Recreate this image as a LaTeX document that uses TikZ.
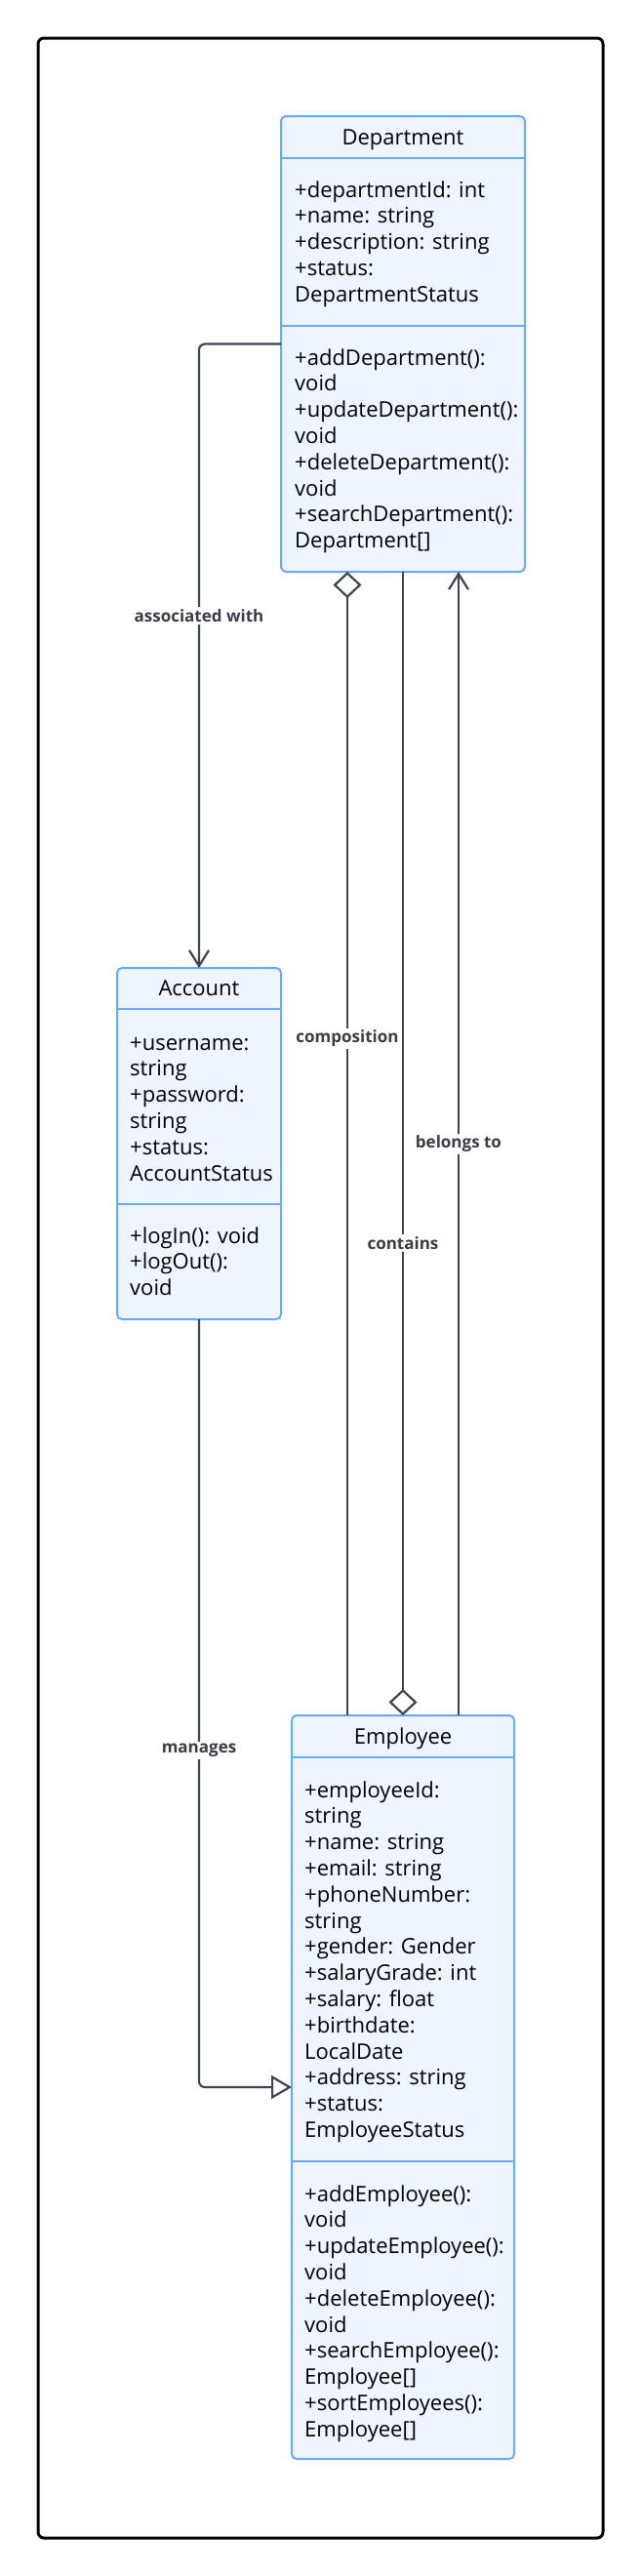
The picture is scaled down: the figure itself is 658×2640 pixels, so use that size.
\documentclass[tikz,border=0pt]{standalone}
\usepackage{fontspec}
\setmainfont{Open Sans}
\usetikzlibrary{arrows.meta,calc}
\definecolor{boxblue}{HTML}{66AAFF}
\definecolor{boxfill}{HTML}{EEF5FF}
\definecolor{edgecol}{HTML}{3F4550}
\definecolor{lbltext}{HTML}{383D47}
\begin{document}
\begin{tikzpicture}[x=1pt,y=-1pt,
 classbox/.style={draw=boxblue, fill=boxfill, line width=2pt, rounded corners=5pt, inner sep=0pt, outer sep=0pt, anchor=north west},
 divider/.style={draw=boxblue, line width=2pt},
 member/.style={anchor=base west, inner sep=0pt, font=\fontsize{22}{26.8}\selectfont, text=black},
 title/.style={anchor=base, inner sep=0pt, font=\fontsize{22}{26.8}\selectfont, text=black},
 conn/.style={draw=edgecol, line width=2.2pt},
 lbl/.style={fill=white, inner sep=2pt, font=\bfseries\fontsize{17}{20}\selectfont, text=lbltext},
 barb/.style={-{Straight Barb[length=16pt,width=20pt]}},
]
\useasboundingbox (0,0) rectangle (658,2640);
% outer frame
\draw[line width=3pt, rounded corners=6pt, fill=white] (39,39) rectangle (618,2601);

% Department
\node[classbox, minimum width=250pt, minimum height=467pt] (dept) at (288,119) {};
\draw[divider] (288,162) -- (538,162);
\draw[divider] (288,334) -- (538,334);
\node[title] (dept-t) at (413,148) {Department};
\foreach \t [count=\i] in {+departmentId: int,+name: string,+description: string,+status:,DepartmentStatus}
  \node[member] (dept-a\i) at (302,{202+(\i-1)*26.8}) {\t};
\foreach \t [count=\i] in {+addDepartment():,void,+updateDepartment():,void,+deleteDepartment():,void,+searchDepartment():,Department[]}
  \node[member] (dept-m\i) at (302,{374+(\i-1)*26.8}) {\t};

% Account
\node[classbox, minimum width=168pt, minimum height=360pt] (acct) at (120,992) {};
\draw[divider] (120,1034) -- (288,1034);
\draw[divider] (120,1234) -- (288,1234);
\node[title] (acct-t) at (204,1020) {Account};
\foreach \t [count=\i] in {+username:,string,+password:,string,+status:,AccountStatus}
  \node[member] (acct-a\i) at (133,{1076+(\i-1)*26.8}) {\t};
\foreach \t [count=\i] in {+logIn(): void,+logOut():,void}
  \node[member] (acct-m\i) at (133,{1274+(\i-1)*26.8}) {\t};

% Employee
\node[classbox, minimum width=228pt, minimum height=762pt] (emp) at (299,1758) {};
\draw[divider] (299,1801) -- (527,1801);
\draw[divider] (299,2215) -- (527,2215);
\node[title] (emp-t) at (413,1787) {Employee};
\foreach \t [count=\i] in {+employeeId:,string,+name: string,+email: string,+phoneNumber:,string,+gender: Gender,+salaryGrade: int,+salary: float,+birthdate:,LocalDate,+address: string,+status:,EmployeeStatus}
  \node[member] (emp-a\i) at (312,{1842+(\i-1)*26.8}) {\t};
\foreach \t [count=\i] in {+addEmployee():,void,+updateEmployee():,void,+deleteEmployee():,void,+searchEmployee():,Employee[],+sortEmployees():,Employee[]}
  \node[member] (emp-m\i) at (312,{2256+(\i-1)*26.8}) {\t};

% connectors
\draw[conn, rounded corners=6pt, barb] (dept.west) -| (acct.north);
\draw[conn, {Diamond[open,length=27pt,width=29pt]}-] ([xshift=-57pt]dept.south) -- ([xshift=-57pt]emp.north);
\draw[conn, -{Diamond[open,length=27pt,width=29pt]}] (dept.south) -- (emp.north);
\draw[conn, barb] ([xshift=57pt]emp.north) -- ([xshift=57pt]dept.south);
\draw[conn, rounded corners=6pt, -{Triangle[open,length=21pt,width=24pt]}] (acct.south) |- (emp.west);

% labels
\node[lbl] (l-assoc) at (204,631) {associated with};
\node[lbl] (l-comp) at (356,1064) {composition};
\node[lbl] (l-belong) at (470,1172) {belongs to};
\node[lbl] (l-cont) at (413,1274) {contains};
\node[lbl] (l-man) at (204,1794) {manages};
\end{tikzpicture}
\end{document}
